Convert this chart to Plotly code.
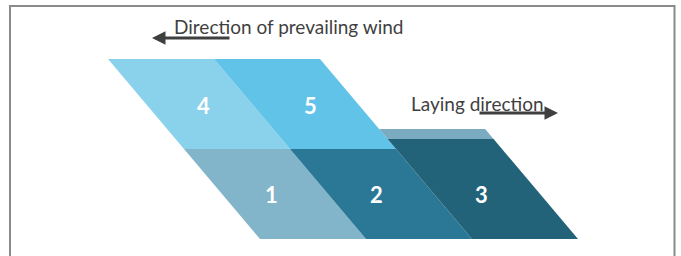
import plotly.graph_objects as go

# ---- data ----
labels = ["1", "2", "3", "4", "5"]
columns = [0, 1, 2, 0, 1]          # column index in the skewed grid
rows = [0, 0, 0, 1, 1]             # row index (0 = bottom row)
colors = ["#82B4CA", "#2B7896", "#236379", "#8AD1EB", "#62C3E8"]
wind_text = "Direction of prevailing wind"
laying_text = "Laying direction"

# ---- geometry helpers (grid units) ----
SKEW = 0.717          # horizontal shift (cells) per row of height
STRIP3_EXTRA = 0.111  # strip 3 rises a bit above the bottom row
BAND = 0.111          # lighter band above strip 3
BAND_COLOR = "#7BABC0"
LABEL_DX = [-0.03, -0.045, -0.055, 0.03, 0.04]   # small nudges of the number labels (cells)

def para(col, y0, y1):
    xs = [col - SKEW * y0, col + 1 - SKEW * y0, col + 1 - SKEW * y1, col - SKEW * y1, col - SKEW * y0]
    ys = [y0, y0, y1, y1, y0]
    return xs, ys

fig = go.Figure()

# top row first
for i in [3, 4]:
    xs, ys = para(columns[i], rows[i], rows[i] + 1)
    fig.add_trace(go.Scatter(x=xs, y=ys, fill="toself", fillcolor=colors[i], mode="lines",
                             line=dict(width=0, color=colors[i]), hoverinfo="skip", showlegend=False))
# lighter band behind strip 3
xs, ys = para(columns[2], 1 + STRIP3_EXTRA, 1 + STRIP3_EXTRA + BAND)
fig.add_trace(go.Scatter(x=xs, y=ys, fill="toself", fillcolor=BAND_COLOR, mode="lines",
                         line=dict(width=0, color=BAND_COLOR), hoverinfo="skip", showlegend=False))
for i in [0, 1, 2]:
    top = rows[i] + 1 + (STRIP3_EXTRA if labels[i] == "3" else 0)
    xs, ys = para(columns[i], rows[i], top)
    fig.add_trace(go.Scatter(x=xs, y=ys, fill="toself", fillcolor=colors[i], mode="lines",
                             line=dict(width=0, color=colors[i]), hoverinfo="skip", showlegend=False))

# number labels at cell centres
for i, lab in enumerate(labels):
    yc = rows[i] + 0.5 - (0.02 if rows[i] == 1 else 0)
    xc = columns[i] + 0.5 - SKEW * yc + LABEL_DX[i]
    fig.add_annotation(x=xc, y=yc, text=f"<b>{lab}</b>", showarrow=False,
                       font=dict(family="Lato, Open Sans, sans-serif", size=22, color="white"))

# pixel -> data conversions for the annotations
def px_x(p):
    return (p - 260) / 106.0

def px_y(p):
    return (239 - p) / 90.0

TEXT_COLOR = "#3F3F3F"
fig.add_annotation(x=px_x(172), y=px_y(26), text=wind_text, showarrow=False, xanchor="left", yanchor="middle",
                   font=dict(family="Lato, sans-serif", size=19, color=TEXT_COLOR))
fig.add_annotation(x=px_x(409), y=px_y(103), text=laying_text, showarrow=False, xanchor="left", yanchor="middle",
                   font=dict(family="Lato, sans-serif", size=19, color=TEXT_COLOR))
# arrows
fig.add_annotation(x=px_x(152), y=px_y(38), ax=px_x(231), ay=px_y(38), axref="x", ayref="y", xref="x", yref="y",
                   text="", showarrow=True, arrowhead=2, arrowsize=0.9, arrowwidth=3, arrowcolor=TEXT_COLOR)
fig.add_annotation(x=px_x(558), y=px_y(113), ax=px_x(478), ay=px_y(113), axref="x", ayref="y", xref="x", yref="y",
                   text="", showarrow=True, arrowhead=2, arrowsize=0.9, arrowwidth=3, arrowcolor=TEXT_COLOR)

# frame
fig.add_shape(type="rect", xref="paper", yref="paper", x0=10 / 681, x1=674.5 / 681, y0=-0.2, y1=1 - 6 / 256,
              line=dict(color="#8A8A8A", width=2), fillcolor="rgba(0,0,0,0)", layer="below")

fig.update_layout(
    width=681, height=256, margin=dict(l=0, r=0, t=0, b=0),
    paper_bgcolor="white", plot_bgcolor="white",
    xaxis=dict(range=[px_x(0), px_x(681)], visible=False, fixedrange=True),
    yaxis=dict(range=[px_y(256), px_y(0)], visible=False, fixedrange=True),
    showlegend=False,
)
fig.write_html("out.html", config={"displayModeBar": False},
               post_script="document.body.style.margin='0';document.body.style.overflow='hidden';")
